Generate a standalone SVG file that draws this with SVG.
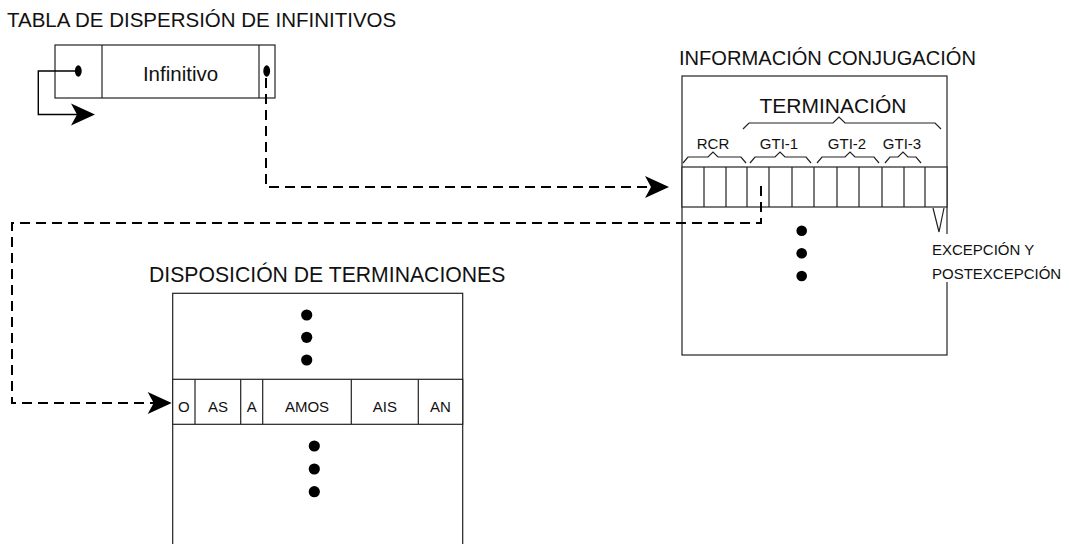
<svg xmlns="http://www.w3.org/2000/svg" width="1069" height="544" viewBox="0 0 1069 544">
<style>
text{font-family:"Liberation Sans",Arial,sans-serif;fill:#111}
.title{font-size:20.5px}
.big{font-size:20.5px}
.small{font-size:15px}
.exc{font-size:15px}
.box{fill:#fff;stroke:#222;stroke-width:1.2}
.ln{fill:none;stroke:#222;stroke-width:1.2}
.br{fill:none;stroke:#222;stroke-width:1.2;stroke-linejoin:miter}
.dot{fill:#000}
.dash{fill:none;stroke:#000;stroke-width:2;stroke-dasharray:10 6}
.solid{fill:none;stroke:#000;stroke-width:1.4}
</style>
<defs>
<marker id="ah" markerUnits="userSpaceOnUse" markerWidth="26" markerHeight="24" refX="14" refY="11" orient="auto" overflow="visible">
<path d="M0,0 L24,11 L0,22 L6,11 Z" fill="#000"/>
</marker>
</defs>

<g id="tabla-dispersion">
<text class="title" x="7" y="27">TABLA DE DISPERSIÓN DE INFINITIVOS</text>
<rect class="box" x="55" y="45" width="220" height="53"/>
<line class="ln" x1="102" y1="45" x2="102" y2="98"/>
<line class="ln" x1="259" y1="45" x2="259" y2="98"/>
<text class="big" x="180.5" y="81" text-anchor="middle">Infinitivo</text>
<ellipse class="dot" cx="78.3" cy="71" rx="3.4" ry="5.8"/>
<ellipse class="dot" cx="266.7" cy="71" rx="3.4" ry="5.8"/>
</g>

<g id="informacion-conjugacion">
<text class="title" x="679" y="65" style="font-size:20.1px">INFORMACIÓN CONJUGACIÓN</text>
<rect class="box" x="682" y="76" width="265" height="279"/>
<rect class="box" x="682" y="167" width="265" height="40"/>
<path class="ln" d="M704,167V207M726,167V207M747,167V207M769,167V207M792,167V207M814,167V207M837,167V207M859,167V207M882,167V207M904,167V207M925,167V207"/>
<text class="big" x="833" y="113" text-anchor="middle" style="font-size:21px">TERMINACIÓN</text>
<path class="br" d="M743,129 L749,123 L833,123 L839,117 L845,123 L935,123 L941,129"/>
<text class="small" x="713" y="149" text-anchor="middle">RCR</text>
<text class="small" x="779" y="149" text-anchor="middle">GTI-1</text>
<text class="small" x="847" y="149" text-anchor="middle">GTI-2</text>
<text class="small" x="902" y="149" text-anchor="middle">GTI-3</text>
<path class="br" d="M683,163 L688,157 L708,157 L713,152 L718,157 L741,157 L746,163"/>
<path class="br" d="M750,163 L755,157 L775,157 L780,152 L785,157 L806,157 L811,163"/>
<path class="br" d="M817,163 L822,157 L845,157 L850,152 L855,157 L874,157 L879,163"/>
<path class="br" d="M885,163 L890,157 L898,157 L903,152 L908,157 L916,157 L921,163"/>
<circle class="dot" cx="801.7" cy="230.7" r="5.3"/>
<circle class="dot" cx="801.7" cy="253.3" r="5.3"/>
<circle class="dot" cx="801.7" cy="276" r="5.3"/>
<path class="br" d="M933,208 L939,232 L944,208"/>
<rect x="930" y="234" width="139" height="48" fill="#fff"/>
<text class="exc" x="932" y="255">EXCEPCIÓN Y</text>
<text class="exc" x="932" y="279">POSTEXCEPCIÓN</text>
</g>

<g id="disposicion-terminaciones">
<text class="title" x="149" y="282" style="font-size:21.2px">DISPOSICIÓN DE TERMINACIONES</text>
<rect class="box" x="172.7" y="293.3" width="290" height="260"/>
<rect class="box" x="172.7" y="379.3" width="290" height="45"/>
<path class="ln" d="M195,379.3V424.3M240.7,379.3V424.3M262.7,379.3V424.3M351.3,379.3V424.3M418.3,379.3V424.3"/>
<text class="small" x="183.8" y="412" text-anchor="middle">O</text>
<text class="small" x="218" y="412" text-anchor="middle">AS</text>
<text class="small" x="251.7" y="412" text-anchor="middle">A</text>
<text class="small" x="307" y="412" text-anchor="middle">AMOS</text>
<text class="small" x="384.8" y="412" text-anchor="middle">AIS</text>
<text class="small" x="440.5" y="412" text-anchor="middle">AN</text>
<circle class="dot" cx="306.7" cy="315" r="5.6"/>
<circle class="dot" cx="306.7" cy="337.3" r="5.6"/>
<circle class="dot" cx="306.7" cy="360" r="5.6"/>
<circle class="dot" cx="314.3" cy="446" r="5.6"/>
<circle class="dot" cx="314.3" cy="469" r="5.6"/>
<circle class="dot" cx="314.3" cy="491.7" r="5.6"/>
</g>

<g id="connectors">
<path class="solid" d="M78,71 H38.3 V114.5 H85" marker-end="url(#ah)"/>
<path class="dash" d="M266,78 V187 H659" marker-end="url(#ah)"/>
<path class="dash" d="M761,186 V223 H12 V403 H161.7" marker-end="url(#ah)"/>
</g>
</svg>
